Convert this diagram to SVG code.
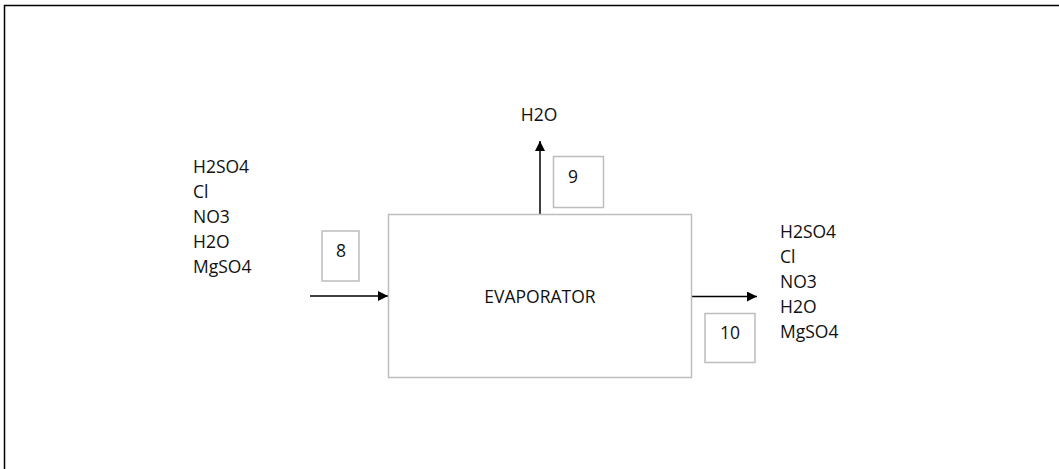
<svg xmlns="http://www.w3.org/2000/svg" width="1059" height="469" viewBox="0 0 1059 469">
<style>
.t{font-family:"Open Sans","Liberation Sans",sans-serif;font-size:17.5px;fill:#111}
.box{fill:#fff;stroke:#bdbdbd;stroke-width:1.5}
.ln{stroke:#000;stroke-width:1.5;fill:none}
</style>
<defs>
<marker id="ah" viewBox="0 0 10 10" refX="10" refY="5" markerWidth="10" markerHeight="10" markerUnits="userSpaceOnUse" orient="auto">
<path d="M0,0 L10,5 L0,10 z" fill="#000"/>
</marker>
</defs>
<rect width="1059" height="469" fill="#fff"/>
<g id="frame"><path class="ln" d="M4.5,469 L4.5,5.5 L1059,5.5" stroke-width="1.5"/></g>
<g id="connectors">
<line class="ln" x1="310" y1="296" x2="388" y2="296" marker-end="url(#ah)"/>
<line class="ln" x1="540" y1="214" x2="540" y2="141" marker-end="url(#ah)"/>
<line class="ln" x1="692" y1="296.5" x2="757" y2="296.5" marker-end="url(#ah)"/>
</g>
<g id="evaporator">
<rect class="box" x="388.5" y="214.5" width="303" height="163"/>
<text class="t" x="540" y="303" text-anchor="middle">EVAPORATOR</text>
</g>
<g id="stream8">
<rect class="box" x="322" y="231" width="37" height="50"/>
<text class="t" x="341" y="257" text-anchor="middle">8</text>
</g>
<g id="stream9">
<rect class="box" x="553.5" y="156.5" width="50" height="51"/>
<text class="t" x="573" y="183" text-anchor="middle">9</text>
</g>
<g id="stream10">
<rect class="box" x="705" y="313.5" width="50" height="49"/>
<text class="t" x="730" y="339" text-anchor="middle">10</text>
</g>
<g id="feed">
<text class="t" x="193" y="173">H2SO4</text>
<text class="t" x="193" y="198">Cl</text>
<text class="t" x="193" y="223">NO3</text>
<text class="t" x="193" y="248">H2O</text>
<text class="t" x="193" y="273">MgSO4</text>
</g>
<g id="vapor">
<text class="t" x="539" y="121" text-anchor="middle">H2O</text>
</g>
<g id="product">
<text class="t" x="780" y="238">H2SO4</text>
<text class="t" x="780" y="263">Cl</text>
<text class="t" x="780" y="288">NO3</text>
<text class="t" x="780" y="313">H2O</text>
<text class="t" x="780" y="338">MgSO4</text>
</g>
</svg>
